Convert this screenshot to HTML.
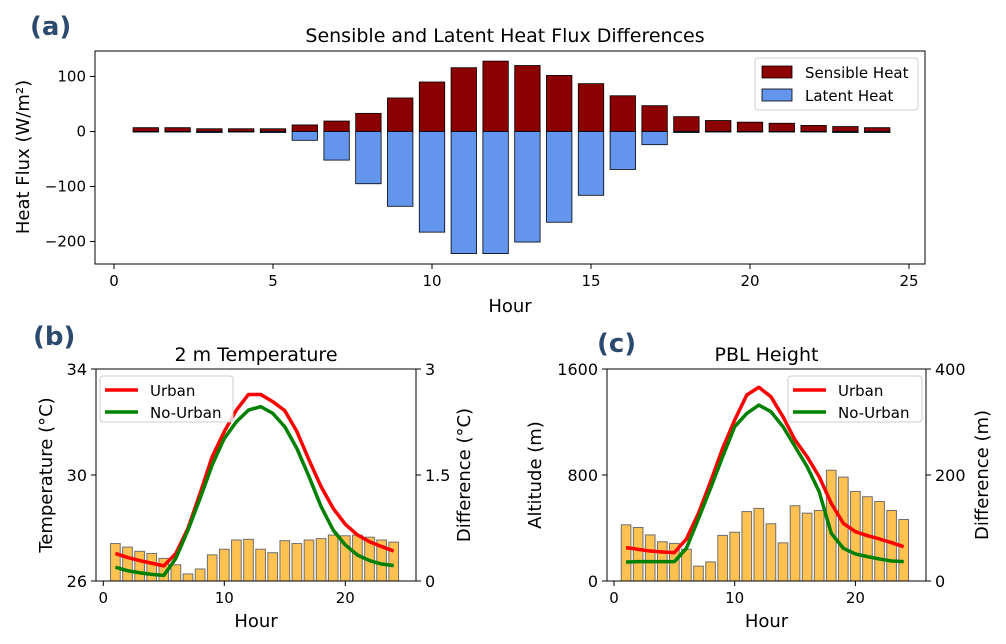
<!DOCTYPE html>
<html><head><meta charset="utf-8"><style>
html,body{margin:0;padding:0;background:#fff;}
svg{display:block;font-family:"DejaVu Sans","Liberation Sans",sans-serif;}
</style></head><body>
<svg id="s" width="1006" height="644" viewBox="0 0 1006 644" xmlns="http://www.w3.org/2000/svg"></svg>
<script>
const hours=[1,2,3,4,5,6,7,8,9,10,11,12,13,14,15,16,17,18,19,20,21,22,23,24];
const sensible=[7,7,5,5,5,12,19,33,61,90,116,128,120,102,87,65,47,27,20,17,15,11,9,7];
const latent=[-1,-1,-2,-1,-2,-16,-52,-95,-136,-183,-222,-222,-201,-165,-116,-69,-24,-2,-1,-1,-1,-1,-2,-2];
const topXTicks=[0,5,10,15,20,25];
const topYTicks=[100,0,-100,-200];
const tempDiff=[0.53,0.48,0.42,0.39,0.32,0.23,0.10,0.17,0.37,0.45,0.58,0.59,0.45,0.40,0.57,0.53,0.58,0.60,0.65,0.64,0.65,0.62,0.58,0.55];
const tempUrban=[27.04,26.89,26.77,26.67,26.57,27.04,27.99,29.31,30.69,31.64,32.45,33.04,33.04,32.77,32.43,31.64,30.57,29.56,28.74,28.14,27.74,27.48,27.30,27.13];
const tempNoUrban=[26.52,26.39,26.31,26.25,26.21,26.86,27.92,29.12,30.38,31.38,32.01,32.45,32.58,32.33,31.82,31.0,29.94,28.81,27.92,27.36,26.98,26.77,26.64,26.58];
const pblDiff=[106,101,87,74,71,60,28,36,86,92,131,137,108,72,142,128,133,209,196,169,159,150,133,116];
const pblUrban=[252,239,226,219,214,317,511,750,1001,1215,1404,1462,1391,1240,1064,938,787,586,435,372,342,317,289,259];
const pblNoUrban=[143,146,146,146,146,247,470,700,938,1165,1265,1328,1278,1165,1014,863,674,360,247,204,184,166,151,146];
const botXTicks=[0,10,20];
const tempLTicks=[26,30,34], tempRTicks=[0,1.5,3], tempRLabels=['0','1.5','3'];
const pblLTicks=[0,800,1600], pblRTicks=[0,200,400];

const S=document.getElementById('s');
const NS='http://www.w3.org/2000/svg';
function el(tag,attrs,parent){const e=document.createElementNS(NS,tag);for(const k in attrs)e.setAttribute(k,attrs[k]);(parent||S).appendChild(e);return e;}
function txt(str,attrs,parent){const e=el('text',attrs,parent);e.textContent=str;return e;}

// ---------- Panel a ----------
const A={l:95,r:925,t:51,b:264};
const ax=v=>114+v*31.8;
const ay=v=>131.5-v*0.55;
const ga=el('g',{});


let t=txt('(a)',{x:30,y:35,'font-size':26,'font-weight':'bold',fill:'#2c4a6e'},ga);

t=txt('Sensible and Latent Heat Flux Differences',{x:505,y:42,'font-size':19,'text-anchor':'middle',fill:'#000'},ga);

hours.forEach((h,i)=>{
  const w=0.8*31.8,x=ax(h)-w/2;
  let r=el('rect',{x:x,y:ay(sensible[i]),width:w,height:ay(0)-ay(sensible[i]),fill:'#8b0000',stroke:'#000','stroke-width':0.8},ga);
  
  r=el('rect',{x:x,y:ay(0),width:w,height:ay(latent[i])-ay(0),fill:'#6495ed',stroke:'#000','stroke-width':0.8},ga);
  
});
el('rect',{x:A.l,y:A.t,width:A.r-A.l,height:A.b-A.t,fill:'none',stroke:'#000','stroke-width':1},ga);
topXTicks.forEach(v=>{el('line',{x1:ax(v),x2:ax(v),y1:A.b,y2:A.b+5,stroke:'#000'},ga);
  const tt=txt(String(v),{x:ax(v),y:A.b+22,'font-size':15,'text-anchor':'middle'},ga);
  });
topYTicks.forEach(v=>{el('line',{x1:A.l-5,x2:A.l,y1:ay(v),y2:ay(v),stroke:'#000'},ga);
  const tt=txt(String(v).replace('-','−'),{x:A.l-9,y:ay(v)+5,'font-size':15,'text-anchor':'end'},ga);
  });
t=txt('Hour',{x:510,y:312,'font-size':18,'text-anchor':'middle'},ga);

t=txt('Heat Flux (W/m²)',{x:0,y:0,'font-size':18,'text-anchor':'middle',transform:'translate(29,157) rotate(-90)'},ga);

const lg=el('g',{},ga);

el('rect',{x:755,y:58,width:163,height:52,rx:3,fill:'#fff',stroke:'#ccc'},lg);
el('rect',{x:762,y:66,width:30,height:12,fill:'#8b0000',stroke:'#000','stroke-width':0.8},lg);
el('rect',{x:762,y:89,width:30,height:12,fill:'#6495ed',stroke:'#000','stroke-width':0.8},lg);
txt('Sensible Heat',{x:805,y:78,'font-size':15},lg);
txt('Latent Heat',{x:805,y:101,'font-size':15},lg);

// ---------- lower panels ----------
function panel(o){
  const g=el('g',{});
  
  
  const X=v=>o.x0+v*o.xs;
  const YL=v=>o.b-(v-o.lmin)/(o.lmax-o.lmin)*(o.b-o.t);
  const YR=v=>o.b-(v-o.rmin)/(o.rmax-o.rmin)*(o.b-o.t);
  let tt=txt(o.label,{x:o.labx,y:o.laby,'font-size':26,'font-weight':'bold',fill:'#2c4a6e'},g);
  
  tt=txt(o.title,{x:(o.l+o.r)/2,y:o.t-8,'font-size':19,'text-anchor':'middle'},g);
  
  hours.forEach((h,i)=>{
    const w=0.8*o.xs;
    const r=el('rect',{x:X(h)-w/2,y:YR(o.diff[i]),width:w,height:o.b-YR(o.diff[i]),fill:'#ffb833',opacity:0.85,stroke:'#555','stroke-width':1},g);
    
  });
  const ln=(arr,c,nm)=>{const p=el('polyline',{points:arr.map((v,i)=>X(hours[i])+','+YL(v)).join(' '),fill:'none',stroke:c,'stroke-width':3.5,'stroke-linejoin':'round'},g);
    };
  ln(o.urban,'#ff0000','urban-line');
  ln(o.nourban,'#008000','no-urban-line');
  el('rect',{x:o.l,y:o.t,width:o.r-o.l,height:o.b-o.t,fill:'none',stroke:'#000','stroke-width':1},g);
  botXTicks.forEach(v=>{el('line',{x1:X(v),x2:X(v),y1:o.b,y2:o.b+5,stroke:'#000'},g);
    const a=txt(String(v),{x:X(v),y:o.b+22,'font-size':15,'text-anchor':'middle'},g);
    });
  o.lt.forEach(v=>{el('line',{x1:o.l-5,x2:o.l,y1:YL(v),y2:YL(v),stroke:'#000'},g);
    const a=txt(String(v),{x:o.l-9,y:YL(v)+6,'font-size':16,'text-anchor':'end'},g);
    });
  o.rt.forEach((v,i)=>{el('line',{x1:o.r,x2:o.r+5,y1:YR(v),y2:YR(v),stroke:'#000'},g);
    const a=txt(o.rl[i],{x:o.r+9,y:YR(v)+6,'font-size':16,'text-anchor':'start'},g);
    });
  tt=txt('Hour',{x:(o.l+o.r)/2,y:o.b+46,'font-size':18,'text-anchor':'middle'},g);
  
  tt=txt(o.ly,{x:0,y:0,'font-size':18,'text-anchor':'middle',transform:'translate('+o.lyx+','+((o.t+o.b)/2)+') rotate(-90)'},g);
  
  tt=txt(o.ry,{x:0,y:0,'font-size':18,'text-anchor':'middle',transform:'translate('+o.ryx+','+((o.t+o.b)/2)+') rotate(-90)'},g);
  
  const L=el('g',{},g);
  
  el('rect',{x:o.lgx,y:376,width:o.lgw,height:46,rx:3,fill:'#fff','fill-opacity':0.8,stroke:'#ccc'},L);
  el('line',{x1:o.lgx+5,x2:o.lgx+38,y1:390,y2:390,stroke:'#ff0000','stroke-width':3.5},L);
  el('line',{x1:o.lgx+5,x2:o.lgx+38,y1:412,y2:412,stroke:'#008000','stroke-width':3.5},L);
  txt('Urban',{x:o.lgx+50,y:396,'font-size':15},L);
  txt('No-Urban',{x:o.lgx+50,y:418,'font-size':15},L);
}
panel({name:'temperature-chart',label:'(b)',labx:33,laby:345,title:'2 m Temperature',l:96,r:416,t:369,b:581,x0:103.3,xs:12.1,
  lmin:26,lmax:34,rmin:0,rmax:3,diff:tempDiff,urban:tempUrban,nourban:tempNoUrban,lt:tempLTicks,rt:tempRTicks,rl:tempRLabels,
  ly:'Temperature (°C)',lyx:52,ry:'Difference (°C)',ryx:470,lgx:100,lgw:133});
panel({name:'pbl-height-chart',label:'(c)',labx:597,laby:352,title:'PBL Height',l:607,r:926,t:369,b:581,x0:614,xs:12.07,
  lmin:0,lmax:1600,rmin:0,rmax:400,diff:pblDiff,urban:pblUrban,nourban:pblNoUrban,lt:pblLTicks,rt:pblRTicks,rl:pblRTicks.map(String),
  ly:'Altitude (m)',lyx:541,ry:'Difference (m)',ryx:988,lgx:788,lgw:134});
</script>
</body></html>
